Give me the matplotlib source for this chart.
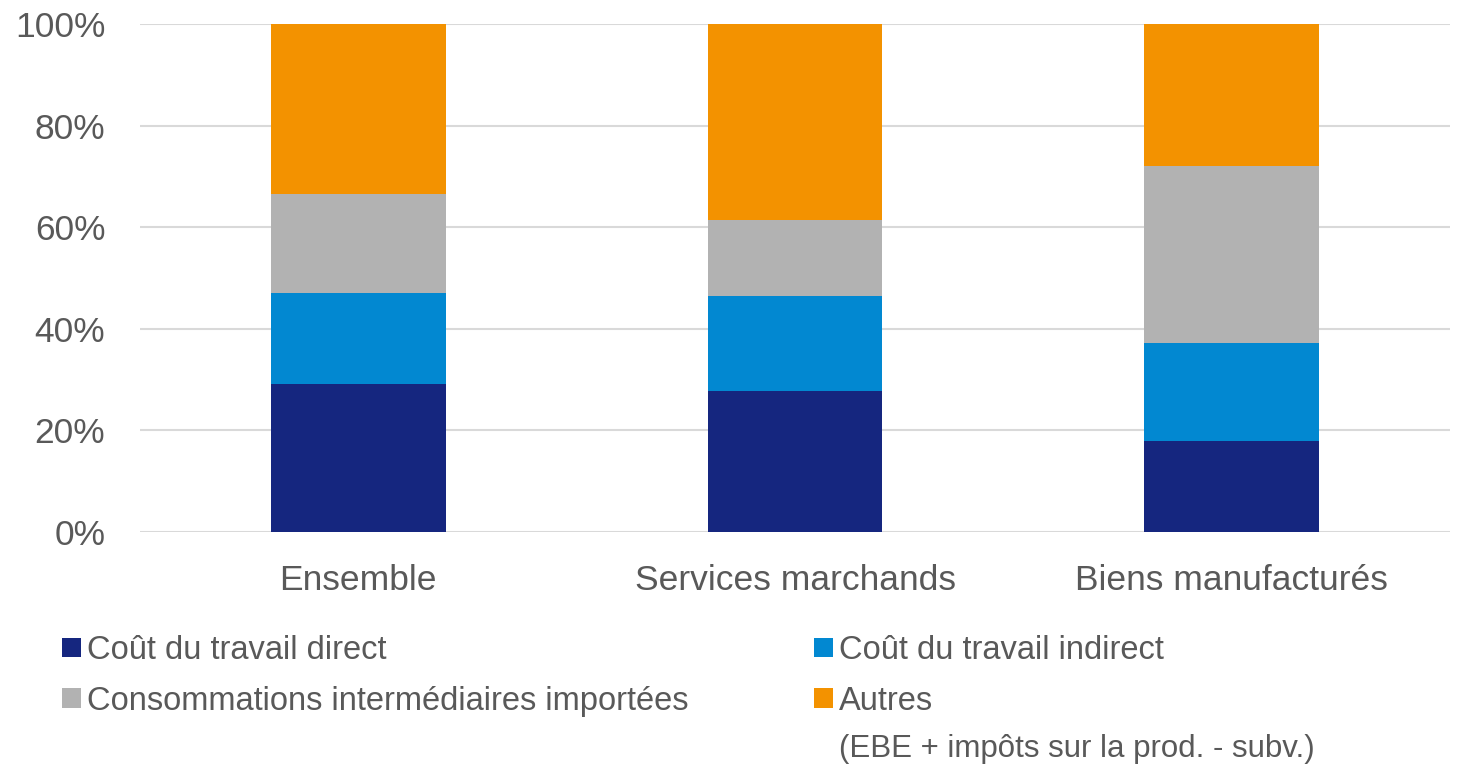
import matplotlib.pyplot as plt
import numpy as np

plt.rcParams['font.family'] = ['Liberation Sans', 'DejaVu Sans']

categories = ["Ensemble", "Services marchands", "Biens manufacturés"]
direct = [29.1, 27.8, 17.9]
indirect = [17.9, 18.7, 19.4]
conso = [19.5, 14.9, 34.8]
autres = [33.5, 38.6, 27.9]

labels = ["Coût du travail direct", "Coût du travail indirect",
          "Consommations intermédiaires importées", "Autres"]
autres_note = "(EBE + impôts sur la prod. - subv.)"
colors = ["#15267f", "#0288d1", "#b2b2b2", "#f39200"]
series = [direct, indirect, conso, autres]

W, H = 1463, 781
fig = plt.figure(figsize=(W / 100, H / 100), dpi=100)
ax = fig.add_axes([140 / W, 1 - 532 / H, 1310 / W, 508 / H])

x = np.arange(len(categories))
bottom = np.zeros(len(categories))
bars = []
for vals, lab, col in zip(series, labels, colors):
    b = ax.bar(x, vals, width=0.4, bottom=bottom, color=col, label=lab, zorder=3)
    bars.append(b)
    bottom += np.array(vals)

ax.set_ylim(0, 100)
ax.set_xlim(-0.5, 2.5)
ax.set_yticks(np.arange(0, 101, 20))
ax.set_yticklabels(["%d%%" % v for v in range(0, 101, 20)])
ax.set_xticks(x)
ax.set_xticklabels(categories)
ax.yaxis.grid(True, color="#d9d9d9", linewidth=1.5, zorder=0)
ax.set_axisbelow(True)
for s in ax.spines.values():
    s.set_visible(False)
ax.tick_params(axis="both", length=0, labelsize=25.5, labelcolor="#595959")
ax.tick_params(axis="y", pad=25)
ax.tick_params(axis="x", pad=23)

# ordre colonne par colonne : direct, conso | indirect, autres
order = [0, 2, 1, 3]
leg = fig.legend([bars[i] for i in order], [labels[i] for i in order],
                 loc="upper left", bbox_to_anchor=(62 / W, 1 - 635 / H),
                 ncol=2, frameon=False, fontsize=23.5, borderpad=0,
                 handlelength=0.57, handleheight=0.55, handletextpad=0.2,
                 columnspacing=3.85, labelspacing=0.6, borderaxespad=0)
for t in leg.get_texts():
    t.set_color("#595959")

# deuxième ligne de la légende "Autres", placée sous le libellé
fig.canvas.draw()
bb = leg.get_texts()[3].get_window_extent()
fig.text(bb.x0 / W, (bb.y0 + bb.y1) / 2 / H - 48 / H, autres_note,
         ha="left", va="center", fontsize=22.5, color="#595959")

fig.savefig("out.png", dpi=100)
